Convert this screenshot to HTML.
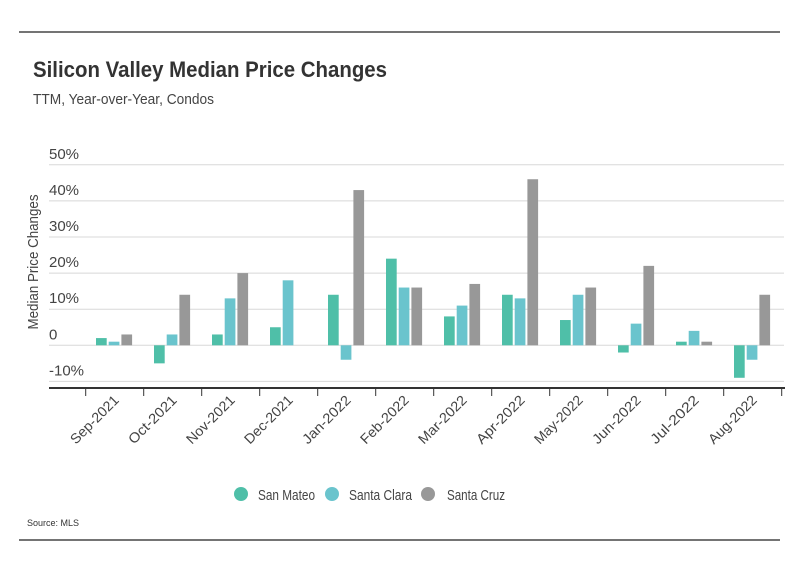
<!DOCTYPE html>
<html><head><meta charset="utf-8"><style>
body{margin:0;background:#fff;}
svg{display:block;font-family:"Liberation Sans",sans-serif;}
</style></head><body>
<svg id="c" width="799" height="575">
<line x1="19" y1="32" x2="780" y2="32" stroke="#222" stroke-width="1.3"/>
<line x1="19" y1="540" x2="780" y2="540" stroke="#222" stroke-width="1.3"/>
<text x="33" y="77" font-size="22" font-weight="bold" fill="#333" textLength="354" lengthAdjust="spacingAndGlyphs">Silicon Valley Median Price Changes</text>
<text x="33" y="104" font-size="15" fill="#444" textLength="181" lengthAdjust="spacingAndGlyphs">TTM, Year-over-Year, Condos</text>
<text transform="translate(38,262) rotate(-90)" text-anchor="middle" font-size="15" fill="#444" textLength="135" lengthAdjust="spacingAndGlyphs">Median Price Changes</text>
<g id="grid"></g><g id="bars"></g><g id="xaxis"></g>
<g>
<circle cx="241" cy="494" r="7" fill="#4fbfa8"/>
<text x="258" y="500" font-size="15" fill="#444" textLength="57" lengthAdjust="spacingAndGlyphs">San Mateo</text>
<circle cx="332" cy="494" r="7" fill="#6ac4cd"/>
<text x="349" y="500" font-size="15" fill="#444" textLength="63" lengthAdjust="spacingAndGlyphs">Santa Clara</text>
<circle cx="428" cy="494" r="7" fill="#989898"/>
<text x="447" y="500" font-size="15" fill="#444" textLength="58" lengthAdjust="spacingAndGlyphs">Santa Cruz</text>
</g>
<text x="27" y="526" font-size="9" fill="#333">Source: MLS</text>
</svg>
<script>
const categories=["Sep-2021","Oct-2021","Nov-2021","Dec-2021","Jan-2022","Feb-2022","Mar-2022","Apr-2022","May-2022","Jun-2022","Jul-2022","Aug-2022"];
const sanMateo=[2,-5,3,5,14,24,8,14,7,-2,1,-9];
const santaClara=[1,3,13,18,-4,16,11,13,14,6,4,-4];
const santaCruz=[3,14,20,0,43,16,17,46,16,22,1,14];
const yTicks=[-10,0,10,20,30,40,50];
const yTickLabels=["-10%","0","10%","20%","30%","40%","50%"];
const NS="http://www.w3.org/2000/svg";
function y(v){return 345.3-v*3.61;}
const x0=85.7,band=58;
function xb(i){return x0+i*band;}
function mk(tag,attrs,parent){const e=document.createElementNS(NS,tag);for(const k in attrs)e.setAttribute(k,attrs[k]);parent.appendChild(e);return e;}
const grid=document.getElementById('grid'),bars=document.getElementById('bars'),xa=document.getElementById('xaxis');
yTicks.forEach((t,i)=>{
  const l=mk('line',{x1:49,x2:784,y1:y(t),y2:y(t),stroke:'#d8d8d8','stroke-width':1},grid);
  
  
  const tx=mk('text',{x:49,y:y(t)-6,'font-size':15,fill:'#444'},grid);
  tx.textContent=yTickLabels[i];
  
  
});
const series=[[sanMateo,'#4fbfa8','san-mateo'],[santaClara,'#6ac4cd','santa-clara'],[santaCruz,'#989898','santa-cruz']];
const bw=10.7,gap=2;
categories.forEach((c,i)=>{
  series.forEach((s,j)=>{
    const v=s[0][i];
    if(v===0)return;
    const bx=xb(i)+10.3+j*(bw+gap);
    const r=mk('rect',{x:bx,y:Math.min(y(v),y(0)),width:bw,height:Math.abs(y(v)-y(0)),fill:s[1]},bars);
    
    
  });
  const cx=xb(i)+band/2+5;
  const t=mk('text',{x:cx,y:401,'text-anchor':'end','font-size':14,fill:'#444',textLength:62,lengthAdjust:'spacingAndGlyphs',transform:`rotate(-45 ${cx} 401)`},xa);
  t.textContent=c;
  
  
});
for(let i=0;i<=categories.length;i++){
  const tk=mk('line',{x1:xb(i),x2:xb(i),y1:388,y2:396,stroke:'#333','stroke-width':1},xa);
  
  
}
const ax=mk('line',{x1:49,x2:785,y1:388,y2:388,stroke:'#333','stroke-width':2},xa);


</script>
</body></html>
